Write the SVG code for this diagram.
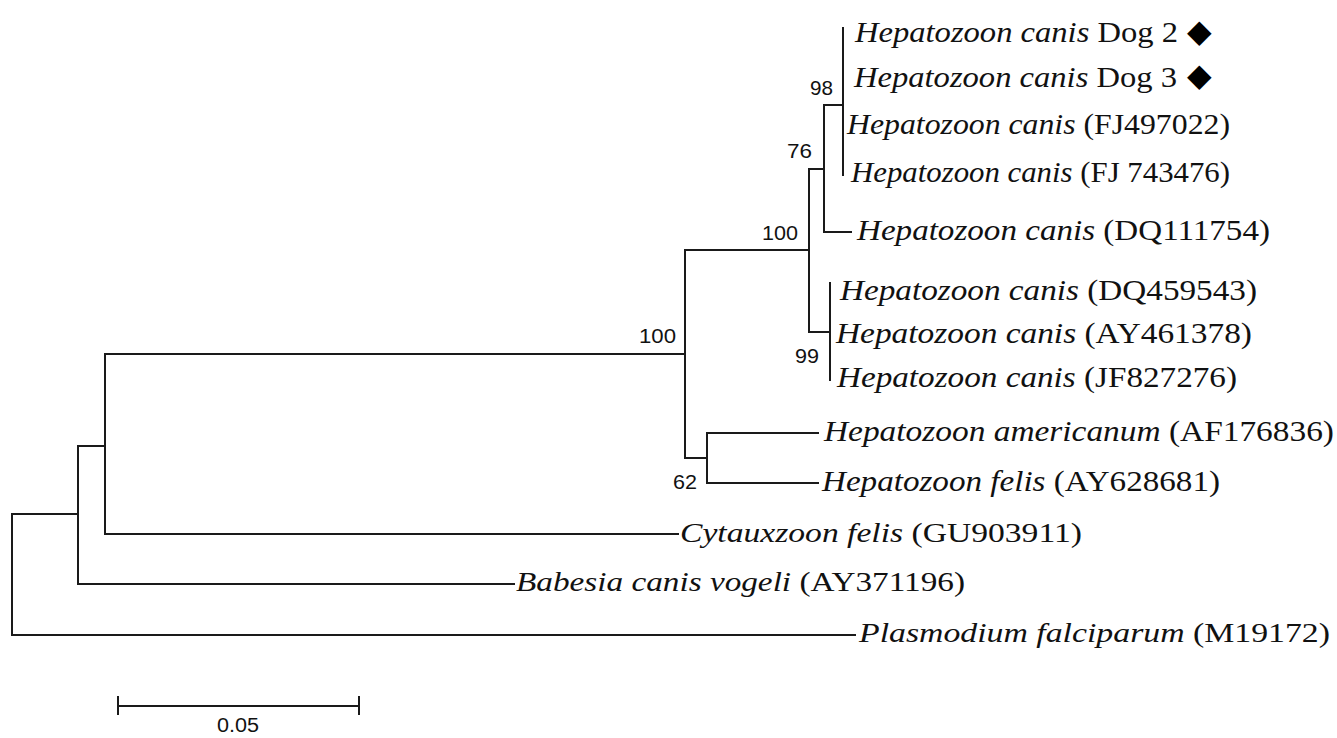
<svg xmlns="http://www.w3.org/2000/svg" width="1337" height="738" viewBox="0 0 1337 738">
<style>
.br{stroke:#1a1a1a;stroke-width:2;fill:none;stroke-linecap:square}
.lb{font-family:"Liberation Serif","Times New Roman",serif;font-size:29px;fill:#111}
.lc{font-family:"Liberation Serif","Times New Roman",serif;font-size:27px;fill:#111}
.it{font-style:italic}
.bs{font-family:"Liberation Sans",Arial,sans-serif;font-size:21px;fill:#111}
.dm{font-family:"DejaVu Sans",sans-serif;font-size:32px;fill:#000}
</style>
<rect width="1337" height="738" fill="#fff"/>
<g id="connectors" class="br">
<path d="M12,514V635H855"/>
<path d="M12,514H78"/>
<path d="M78,446V584H514"/>
<path d="M78,446H105"/>
<path d="M105,354V534H678"/>
<path d="M105,354H685"/>
<path d="M685,250V458H707"/>
<path d="M707,433V483"/>
<path d="M707,433H818"/>
<path d="M707,483H818"/>
<path d="M685,250H809"/>
<path d="M809,169V332H830"/>
<path d="M830,283V380"/>
<path d="M809,169H824"/>
<path d="M824,105V232H851"/>
<path d="M824,105H843"/>
<path d="M843,28V175"/>
</g>
<g id="leaf-dog2"><text class="lb" x="855" y="42" textLength="323" lengthAdjust="spacingAndGlyphs"><tspan class="it">Hepatozoon canis</tspan> Dog 2</text><text class="dm" x="1187" y="42">◆</text></g>
<g id="leaf-dog3"><text class="lb" x="854" y="87" textLength="323" lengthAdjust="spacingAndGlyphs"><tspan class="it">Hepatozoon canis</tspan> Dog 3</text><text class="dm" x="1187" y="86">◆</text></g>
<g id="leaf-FJ497022"><text class="lb" x="847" y="134" textLength="383" lengthAdjust="spacingAndGlyphs"><tspan class="it">Hepatozoon canis</tspan> (FJ497022)</text></g>
<g id="leaf-FJ743476"><text class="lb" x="851" y="182" textLength="379" lengthAdjust="spacingAndGlyphs"><tspan class="it">Hepatozoon canis</tspan> (FJ 743476)</text></g>
<g id="leaf-DQ111754"><text class="lb" x="857" y="240" textLength="413" lengthAdjust="spacingAndGlyphs"><tspan class="it">Hepatozoon canis</tspan> (DQ111754)</text></g>
<g id="leaf-DQ459543"><text class="lb" x="840" y="300" textLength="417" lengthAdjust="spacingAndGlyphs"><tspan class="it">Hepatozoon canis</tspan> (DQ459543)</text></g>
<g id="leaf-AY461378"><text class="lb" x="836" y="343" textLength="416" lengthAdjust="spacingAndGlyphs"><tspan class="it">Hepatozoon canis</tspan> (AY461378)</text></g>
<g id="leaf-JF827276"><text class="lb" x="837" y="387" textLength="400" lengthAdjust="spacingAndGlyphs"><tspan class="it">Hepatozoon canis</tspan> (JF827276)</text></g>
<g id="leaf-AF176836"><text class="lb" x="824" y="441" textLength="510" lengthAdjust="spacingAndGlyphs"><tspan class="it">Hepatozoon americanum</tspan> (AF176836)</text></g>
<g id="leaf-AY628681"><text class="lb" x="822" y="491" textLength="398" lengthAdjust="spacingAndGlyphs"><tspan class="it">Hepatozoon felis</tspan> (AY628681)</text></g>
<g id="leaf-GU903911"><text class="lc" x="680" y="542" textLength="402" lengthAdjust="spacingAndGlyphs"><tspan class="it">Cytauxzoon felis</tspan> (GU903911)</text></g>
<g id="leaf-AY371196"><text class="lc" x="516" y="591" textLength="449" lengthAdjust="spacingAndGlyphs"><tspan class="it">Babesia canis vogeli</tspan> (AY371196)</text></g>
<g id="leaf-M19172"><text class="lc" x="859" y="642" textLength="471" lengthAdjust="spacingAndGlyphs"><tspan class="it">Plasmodium falciparum</tspan> (M19172)</text></g>
<g id="bootstrap">
<text class="bs" x="810" y="95" textLength="23" lengthAdjust="spacingAndGlyphs">98</text>
<text class="bs" x="787" y="158" textLength="25" lengthAdjust="spacingAndGlyphs">76</text>
<text class="bs" x="762" y="240" textLength="36" lengthAdjust="spacingAndGlyphs">100</text>
<text class="bs" x="639" y="343" textLength="37" lengthAdjust="spacingAndGlyphs">100</text>
<text class="bs" x="795" y="363" textLength="24" lengthAdjust="spacingAndGlyphs">99</text>
<text class="bs" x="673" y="489" textLength="24" lengthAdjust="spacingAndGlyphs">62</text>
</g>
<g id="scale-bar">
<path class="br" d="M118,706H359M118,697V714M359,697V714"/>
<text class="bs" x="238" y="732" text-anchor="middle" style="font-size:20px" textLength="42" lengthAdjust="spacingAndGlyphs">0.05</text>
</g>
</svg>
